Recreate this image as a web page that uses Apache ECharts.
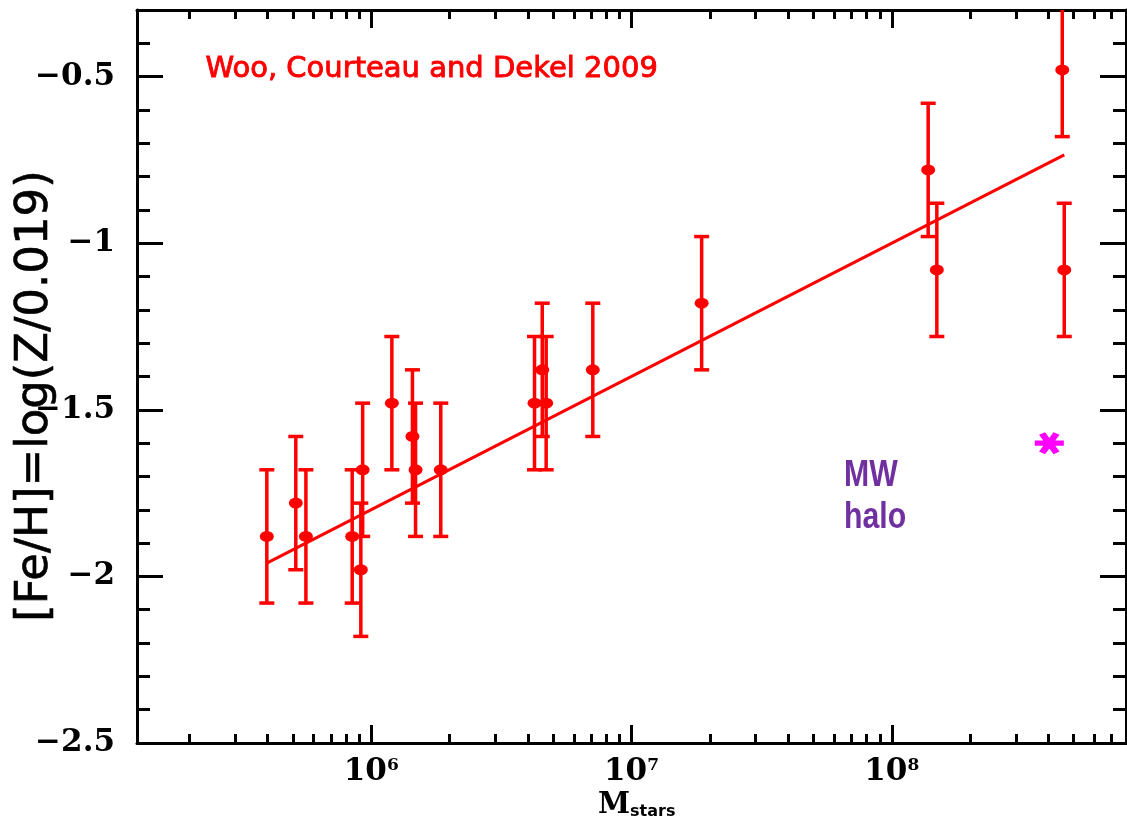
<!DOCTYPE html>
<html>
<head>
<meta charset="utf-8">
<script src="https://cdn.jsdelivr.net/npm/echarts@6/dist/echarts.min.js"></script>
<style>
html,body{margin:0;padding:0;background:#fff;}
#chart{width:1127px;height:824px;}
</style>
</head>
<body>
<div id="chart"></div>
<script>
// ---- data ----
var massStars = [3.97e5, 5.13e5, 5.61e5, 8.45e5, 9.12e5, 9.27e5, 1.20e6, 1.44e6, 1.48e6, 1.85e6,
                 4.24e6, 4.54e6, 4.70e6, 7.10e6, 1.86e7, 1.38e8, 1.49e8, 4.52e8, 4.60e8];
var feH       = [-1.88, -1.78, -1.88, -1.88, -1.98, -1.68, -1.48, -1.58, -1.68, -1.68,
                 -1.48, -1.38, -1.48, -1.38, -1.18, -0.78, -1.08, -0.48, -1.08];
var feHErr    = [0.2, 0.2, 0.2, 0.2, 0.2, 0.2, 0.2, 0.2, 0.2, 0.2,
                 0.2, 0.2, 0.2, 0.2, 0.2, 0.2, 0.2, 0.2, 0.2];
var fitMass   = [3.97e5, 4.60e8];
var fitFeH    = [-1.96, -0.735];
var mwMass    = [4.03e8];
var mwFeH     = [-1.60];
var xMajorTicks = [1e6, 1e7, 1e8];
var yMajorTicks = [-2.5, -2, -1.5, -1, -0.5];
var yMinorTicks = [-2.4, -2.3, -2.2, -2.1, -1.9, -1.8, -1.7, -1.6, -1.4, -1.3, -1.2, -1.1,
                   -0.9, -0.8, -0.7, -0.6, -0.4];
var xRangeMass = [1.26e5, 7.94e8];
var yRange = [-2.5, -0.3];
var annotation = 'Woo, Courteau and Dekel 2009';
var yTitle = '[Fe/H]=log(Z/0.019)';

// ---- derived ----
var lg = Math.log10;
var xMin = +lg(xRangeMass[0]).toFixed(3), xMax = +lg(xRangeMass[1]).toFixed(3);
var xMajor = xMajorTicks.map(lg);
var xMinor = [];
for (var n = 5; n <= 8; n++) {
  for (var k = 2; k <= 9; k++) {
    var v = lg(k * Math.pow(10, n));
    if (v > xMin && v < xMax) xMinor.push(v);
  }
}
var pts = massStars.map(function (m, i) { return [lg(m), feH[i]]; });
var errs = massStars.map(function (m, i) { return [lg(m), feH[i] - feHErr[i], feH[i] + feHErr[i]]; });
var fit = fitMass.map(function (m, i) { return [lg(m), fitFeH[i]]; });
var mw = mwMass.map(function (m, i) { return [lg(m), mwFeH[i]]; });

var RED = '#ff0000';
var BLACK = '#000000';
var SERIF = 'DejaVu Serif';

function makeX(pos, major, showLabel) {
  return {
    type: 'value', position: pos, min: xMin, max: xMax,
    axisLine: { show: major, onZero: false, lineStyle: { color: BLACK, width: 3 } },
    axisTick: { show: true, inside: true, length: major ? 18 : 9,
      customValues: major ? xMajor : xMinor, lineStyle: { color: BLACK, width: 3 } },
    axisLabel: showLabel ? {
      show: true, customValues: xMajor, margin: 14,
      formatter: function (v) { return '{b|10}{s|' + Math.round(v) + '}'; },
      rich: {
        b: { fontFamily: SERIF, fontWeight: 'bold', fontSize: 31, color: BLACK, lineHeight: 30, verticalAlign: 'bottom' },
        s: { fontFamily: SERIF, fontWeight: 'bold', fontSize: 17, color: BLACK, lineHeight: 30, verticalAlign: 'top' }
      }
    } : { show: false },
    splitLine: { show: false }
  };
}
function makeY(pos, major, showLabel) {
  return {
    type: 'value', position: pos, min: yRange[0], max: yRange[1],
    axisLine: { show: major, onZero: false, lineStyle: { color: BLACK, width: 3 } },
    axisTick: { show: true, inside: true, length: major ? 26 : 13,
      customValues: major ? yMajorTicks : yMinorTicks, lineStyle: { color: BLACK, width: 3 } },
    axisLabel: showLabel ? {
      show: true, customValues: yMajorTicks, margin: 22,
      fontFamily: SERIF, fontWeight: 'bold', fontSize: 31, color: BLACK,
      formatter: function (v) { return (v < 0 ? '\u2212' : '') + Math.abs(v); }
    } : { show: false },
    splitLine: { show: false }
  };
}

// asterisk path (three bars)
function asteriskPath() {
  var w = 0.24, parts = [];
  [0, 60, 120].forEach(function (deg) {
    var a = deg * Math.PI / 180, c = Math.cos(a), s = Math.sin(a);
    var px = -s * w, py = c * w;
    var p = [[c + px, s + py], [-c + px, -s + py], [-c - px, -s - py], [c - px, s - py]];
    parts.push('M' + p.map(function (q) { return q[0].toFixed(3) + ',' + q[1].toFixed(3); }).join('L') + 'Z');
  });
  return 'path://' + parts.join('');
}

var chart = echarts.init(document.getElementById('chart'), null, { renderer: 'canvas' });
chart.setOption({
  animation: false,
  backgroundColor: '#ffffff',
  grid: { left: 137, right: 1, top: 10, bottom: 81, containLabel: false, outerBoundsMode: 'none' },
  xAxis: [makeX('bottom', true, true), makeX('bottom', false, false), makeX('top', true, false), makeX('top', false, false)],
  yAxis: [makeY('left', true, true), makeY('left', false, false), makeY('right', true, false), makeY('right', false, false)],
  series: [
    {
      type: 'line', data: fit, xAxisIndex: 0, yAxisIndex: 0, symbol: 'none',
      lineStyle: { color: RED, width: 3 }, z: 2
    },
    {
      type: 'custom', xAxisIndex: 0, yAxisIndex: 0, data: errs, clip: true, z: 3,
      renderItem: function (params, api) {
        var x = api.value(0), lo = api.value(1), hi = api.value(2);
        var a = api.coord([x, lo]), b = api.coord([x, hi]);
        var hw = 7.5;
        var st = { stroke: RED, lineWidth: 3.5 };
        return { type: 'group', children: [
          { type: 'line', shape: { x1: a[0], y1: a[1], x2: b[0], y2: b[1] }, style: st },
          { type: 'line', shape: { x1: a[0] - hw, y1: a[1], x2: a[0] + hw, y2: a[1] }, style: st },
          { type: 'line', shape: { x1: b[0] - hw, y1: b[1], x2: b[0] + hw, y2: b[1] }, style: st }
        ] };
      }
    },
    {
      type: 'scatter', data: pts, xAxisIndex: 0, yAxisIndex: 0, symbol: 'circle', symbolSize: [14, 11],
      itemStyle: { color: RED, opacity: 1 }, z: 4
    },
    {
      type: 'scatter', data: mw, xAxisIndex: 0, yAxisIndex: 0, symbol: asteriskPath(), symbolSize: [29, 22],
      itemStyle: { color: '#ff00ff', opacity: 1 }, z: 4
    }
  ],
  graphic: [
    { type: 'text', left: 205, top: 55, z: 10,
      style: { text: annotation, fill: RED, stroke: RED, lineWidth: 0.9, font: '29px "DejaVu Sans"' } },
    { type: 'text', x: 844, y: 476, scaleX: 0.84, z: 10,
      style: { text: 'MW', fill: '#7030a0', font: 'bold 36px "Liberation Sans"', textVerticalAlign: 'middle' } },
    { type: 'text', x: 844, y: 518, scaleX: 0.84, z: 10,
      style: { text: 'halo', fill: '#7030a0', font: 'bold 36px "Liberation Sans"', textVerticalAlign: 'middle' } },
    { type: 'text', x: 35, y: 396, rotation: Math.PI / 2, z: 10,
      style: { text: yTitle, fill: BLACK, stroke: BLACK, lineWidth: 0.6, font: '45px "DejaVu Sans"', textAlign: 'center', textVerticalAlign: 'middle' } },
    { type: 'text', x: 598, y: 805, z: 10,
      style: { text: '{m|M}{s|stars}', textVerticalAlign: 'middle',
        rich: {
          m: { fontFamily: SERIF, fontWeight: 'bold', fontSize: 29, fill: BLACK, lineHeight: 30, verticalAlign: 'middle' },
          s: { fontFamily: 'DejaVu Sans', fontWeight: 'bold', fontSize: 16, fill: BLACK, lineHeight: 30, verticalAlign: 'bottom' }
        } } }
  ]
});
</script>
</body>
</html>
